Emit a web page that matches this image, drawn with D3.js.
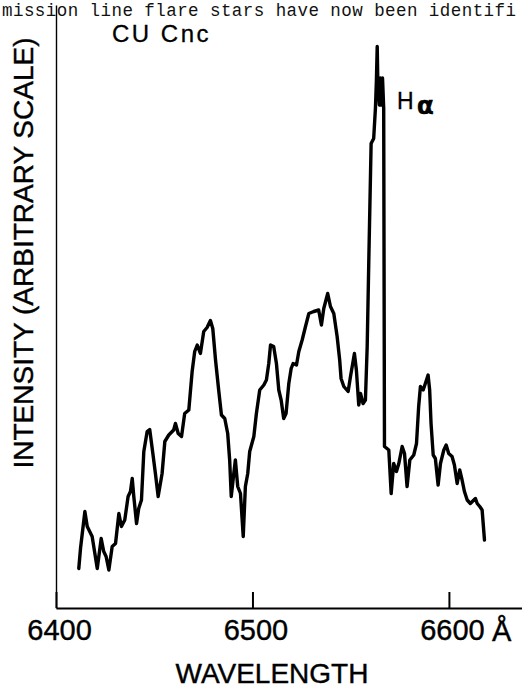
<!DOCTYPE html>
<html>
<head>
<meta charset="utf-8">
<script src="https://cdn.jsdelivr.net/npm/d3@7/dist/d3.min.js"></script>
<style>
  html, body { margin: 0; padding: 0; background: #fff; }
  svg { display: block; }
</style>
</head>
<body>
<svg id="chart" width="522" height="698"></svg>
<script>
// ---- data ----
const wavelength = [6411.6, 6412.5, 6414.7, 6415.9, 6418.4, 6421.0, 6423.0, 6424.3, 6425.5, 6426.9,
  6428.6, 6430.3, 6432.0, 6433.3, 6435.0, 6436.7, 6437.9, 6438.8, 6439.6, 6441.0,
  6442.1, 6443.5, 6444.7, 6446.4, 6447.7, 6449.3, 6450.6, 6452.0, 6454.0, 6455.4,
  6457.4, 6459.9, 6460.8, 6462.2, 6463.9, 6465.5, 6467.6, 6469.3, 6470.6, 6471.9,
  6473.5, 6475.2, 6476.9, 6478.6, 6479.8, 6481.2, 6482.8, 6484.2, 6485.9, 6487.4,
  6488.4, 6489.2, 6490.5, 6491.3, 6492.5, 6493.9, 6495.3, 6496.4, 6497.6, 6498.6,
  6500.7, 6502.0, 6503.7, 6505.8, 6507.1, 6508.3, 6509.2, 6510.8, 6512.2, 6513.4,
  6514.6, 6515.9, 6517.1, 6518.5, 6519.7, 6520.7, 6522.4, 6523.6, 6525.3, 6527.0,
  6528.7, 6531.2, 6533.7, 6535.1, 6536.3, 6538.3, 6539.7, 6541.4, 6543.1, 6544.4,
  6545.1, 6546.5, 6548.7, 6549.9, 6551.9, 6552.9, 6554.1, 6555.0, 6556.3, 6557.5,
  6558.4, 6559.2, 6560.1, 6560.4, 6561.7, 6562.6, 6563.1, 6563.5, 6563.8, 6564.6,
  6565.1, 6565.6, 6566.2, 6566.8, 6567.2, 6569.4, 6570.6, 6571.9, 6573.3, 6574.5,
  6576.2, 6577.4, 6578.7, 6580.1, 6582.1, 6583.5, 6584.6, 6585.5, 6586.9, 6588.0,
  6589.4, 6590.2, 6590.9, 6592.0, 6593.1, 6594.5, 6595.7, 6597.4, 6598.6, 6599.9,
  6601.6, 6602.8, 6604.2, 6605.5, 6606.7, 6607.9, 6609.3, 6610.9, 6613.5, 6614.4,
  6615.7, 6616.9, 6618.1];

const intensity = [7.9, 12.0, 19.3, 16.3, 14.3, 7.9, 13.9, 11.3, 10.3, 7.6,
  12.3, 12.9, 18.9, 16.3, 17.6, 22.3, 23.3, 25.9, 22.3, 16.9,
  19.9, 21.6, 31.3, 35.3, 35.7, 30.9, 26.9, 22.3, 26.9, 33.3,
  34.6, 35.6, 36.9, 34.9, 34.3, 38.9, 39.6, 47.3, 51.3, 52.6,
  50.9, 55.3, 56.1, 57.5, 55.9, 49.6, 43.6, 38.6, 37.9, 34.9,
  29.6, 22.3, 26.9, 29.6, 24.3, 22.9, 14.3, 24.3, 26.9, 31.3,
  34.3, 38.9, 43.6, 44.6, 45.6, 48.9, 52.6, 52.3, 48.9, 43.6,
  41.6, 37.9, 38.9, 44.9, 47.9, 48.9, 48.6, 51.3, 53.6, 56.3,
  58.9, 59.3, 59.6, 56.6, 59.9, 62.9, 60.3, 58.9, 54.3, 49.6,
  45.9, 44.3, 43.3, 46.3, 50.9, 47.6, 40.6, 42.9, 40.9, 41.6,
  52.3, 69.0, 87.0, 92.9, 93.9, 100.0, 105.6, 112.3, 105.6, 100.6,
  106.0, 100.6, 106.0, 100.0, 32.3, 31.6, 22.9, 28.9, 27.3, 28.9,
  32.3, 30.9, 24.3, 29.6, 30.6, 32.9, 40.3, 44.3, 43.6, 44.9,
  46.6, 43.6, 36.9, 30.6, 29.9, 24.6, 28.9, 31.6, 32.6, 30.9,
  30.3, 28.6, 24.9, 27.6, 25.6, 23.3, 21.6, 20.9, 21.9, 20.9,
  20.3, 19.6, 13.6];

const xTicks = [6400, 6500, 6600];
const xDomain = [6400, 6637.2];
const yDomain = [0, 120.6];
const starName = "CU Cnc";
const lineName = "H";
const lineSub = "α";
const xTitle = "WAVELENGTH";
const yTitle = "INTENSITY (ARBITRARY SCALE)";
const unitLabel = "Å";
const clippedText = "mission line flare stars have now been identifi";

// ---- drawing ----
const svg = d3.select("#chart");
const FONT = "'Liberation Sans', Arial, sans-serif";

const x = d3.scaleLinear().domain(xDomain).range([56, 522]);
const y = d3.scaleLinear().domain(yDomain).range([608, 5]);

// running text from the page above (kept inside the frame)
svg.append("text")
  .attr("x", 2).attr("y", 15.5)
  .attr("font-family", "'Liberation Mono', 'Courier New', monospace")
  .attr("font-size", 17.5)
  .attr("textLength", 514)
  .attr("lengthAdjust", "spacing")
  .attr("fill", "#111")
  .text(clippedText);

// x axis
const xAxis = d3.axisBottom(x)
  .tickValues(xTicks)
  .tickSizeInner(-16)
  .tickSizeOuter(0)
  .tickPadding(11.5)
  .tickFormat(d3.format("d"));

const gx = svg.append("g")
  .attr("transform", "translate(0,608)")
  .call(xAxis);
gx.select(".domain").attr("stroke", "#000").attr("stroke-width", 2);
gx.selectAll(".tick line").attr("stroke", "#000").attr("stroke-width", 2);
gx.selectAll(".tick text")
  .attr("font-family", FONT)
  .attr("font-size", 29)
  .attr("fill", "#000")
  .attr("stroke", "#000").attr("stroke-width", 0.4)
  .attr("dx", 3);

svg.append("text")
  .attr("x", x(6600) + 43).attr("y", 641)
  .attr("font-family", FONT).attr("font-size", 29).attr("fill", "#000")
  .attr("stroke", "#000").attr("stroke-width", 0.4)
  .text(unitLabel);

// y axis (no ticks)
const yAxis = d3.axisLeft(y).tickValues([]).tickSizeOuter(0);
const gy = svg.append("g")
  .attr("transform", "translate(56,0)")
  .call(yAxis);
gy.select(".domain").attr("stroke", "#000").attr("stroke-width", 1.4);

// titles
svg.append("text")
  .attr("x", 272).attr("y", 683)
  .attr("text-anchor", "middle")
  .attr("font-family", FONT).attr("font-size", 28).attr("fill", "#000")
  .attr("stroke", "#000").attr("stroke-width", 0.4)
  .text(xTitle);

svg.append("text")
  .attr("transform", "translate(33,253) rotate(-90)")
  .attr("text-anchor", "middle")
  .attr("font-family", FONT).attr("font-size", 28).attr("fill", "#000")
  .attr("stroke", "#000").attr("stroke-width", 0.4)
  .text(yTitle);

// spectrum
const pts = wavelength.map((w, i) => [w, intensity[i]]);
const line = d3.line().x(d => x(d[0])).y(d => y(d[1]));
svg.append("path")
  .datum(pts)
  .attr("d", line)
  .attr("fill", "none")
  .attr("stroke", "#000")
  .attr("stroke-width", 3.4)
  .attr("stroke-linejoin", "round")
  .attr("stroke-linecap", "round");

// labels
svg.append("text")
  .attr("x", 112).attr("y", 42)
  .attr("font-family", FONT).attr("font-size", 24)
  .attr("letter-spacing", 2.5).attr("fill", "#000")
  .attr("stroke", "#000").attr("stroke-width", 0.3)
  .text(starName);

const ha = svg.append("text")
  .attr("x", 397).attr("y", 109)
  .attr("font-family", FONT).attr("font-size", 23).attr("fill", "#000")
  .attr("stroke", "#000").attr("stroke-width", 0.3);
ha.append("tspan").text(lineName);
ha.append("tspan").attr("dx", 3).attr("dy", 5)
  .attr("font-family", "'DejaVu Sans', sans-serif")
  .attr("font-size", 25).attr("font-weight", "bold")
  .text(lineSub);
</script>
</body>
</html>
